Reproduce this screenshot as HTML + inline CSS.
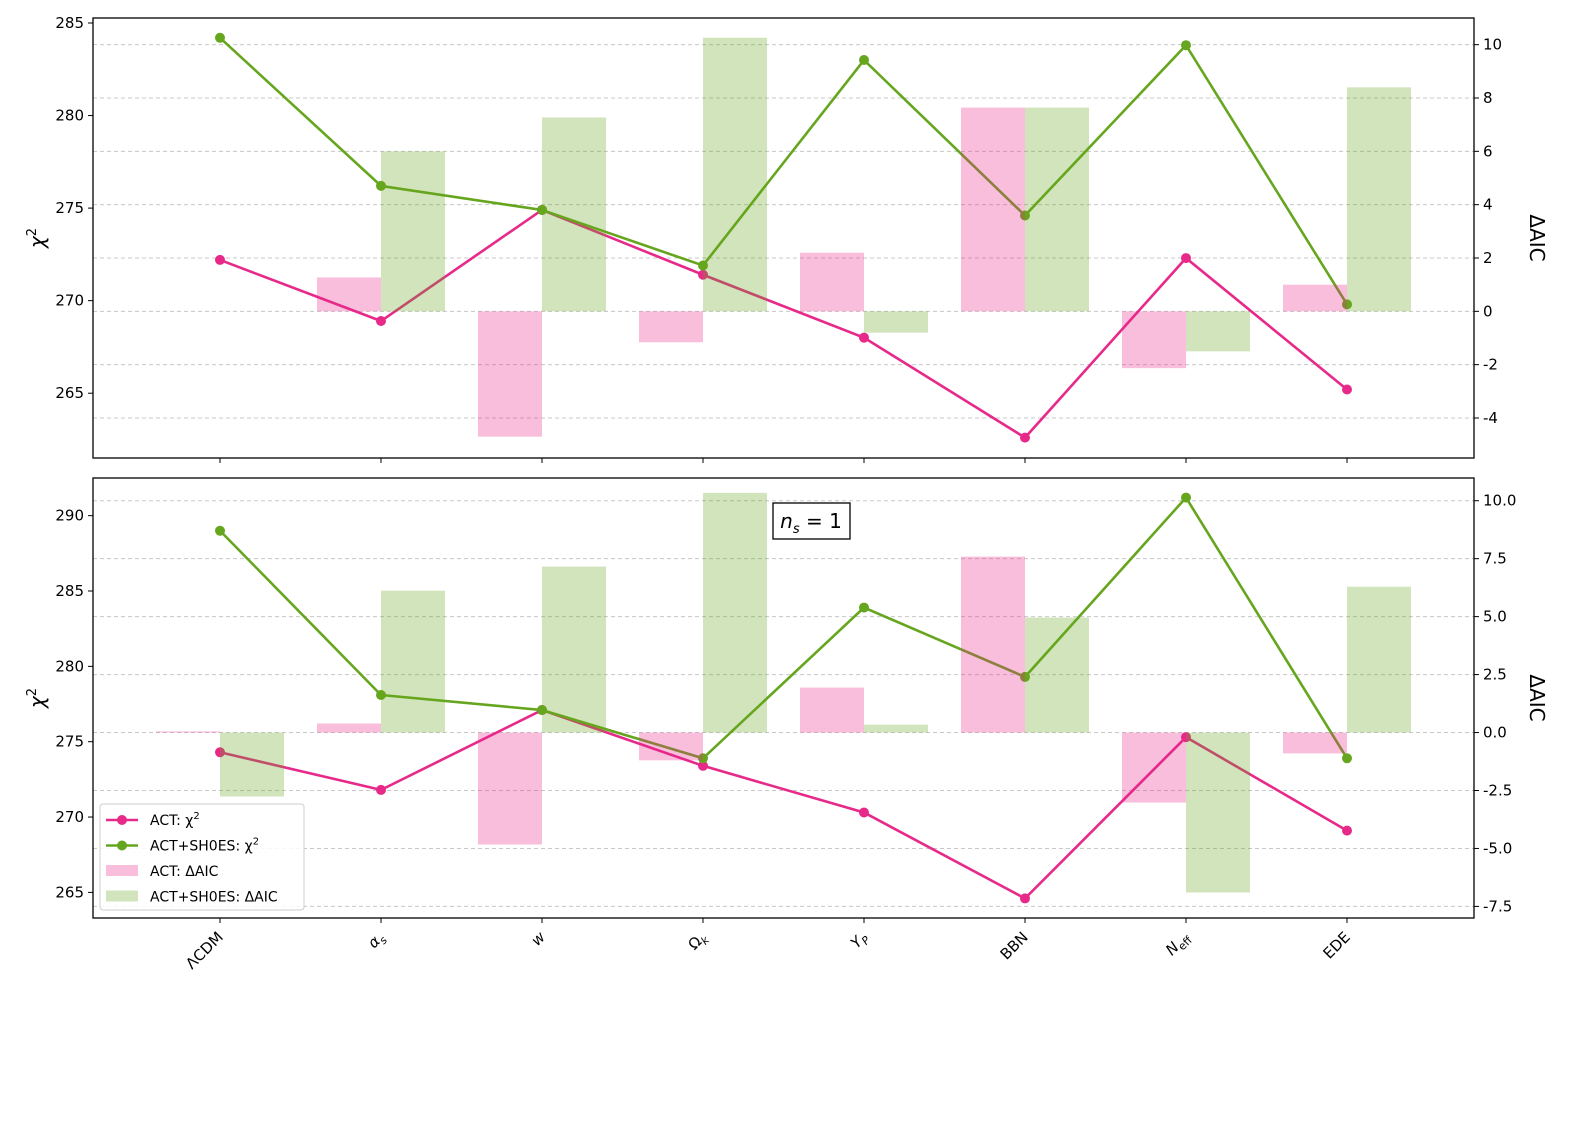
<!DOCTYPE html>
<html><head><meta charset="utf-8"><style>
html,body{margin:0;padding:0;background:#fff;}
svg{display:block;font-family:"DejaVu Sans","Liberation Sans",sans-serif;}
</style></head><body>
<svg id="chart" width="1578" height="1127" viewBox="0 0 1578 1127" xmlns="http://www.w3.org/2000/svg">
<rect width="1578" height="1127" fill="#fff"/>
<g id="root"></g>
</svg>
<script>
const categories = ["ΛCDM","αs","w","Ωk","YP","BBN","Neff","EDE"];
const topActChi2 = [272.2,268.9,274.9,271.4,268.0,262.6,272.3,265.2];
const topShoesChi2 = [284.2,276.2,274.9,271.9,283.0,274.6,283.8,269.8];
const topActAIC = [0,1.27,-4.7,-1.16,2.2,7.64,-2.13,1.0];
const topShoesAIC = [0,6.0,7.27,10.26,-0.8,7.64,-1.5,8.4];
const botActChi2 = [274.3,271.8,277.1,273.4,270.3,264.6,275.3,269.1];
const botShoesChi2 = [289.0,278.1,277.1,273.9,283.9,279.3,291.2,273.9];
const botActAIC = [0.05,0.39,-4.83,-1.2,1.94,7.59,-3.02,-0.9];
const botShoesAIC = [-2.76,6.12,7.16,10.34,0.34,4.96,-6.9,6.29];
const topLeftTicks = [265,270,275,280,285];
const topRightTicks = [-4,-2,0,2,4,6,8,10];
const botLeftTicks = [265,270,275,280,285,290];
const botRightTicks = [-7.5,-5.0,-2.5,0.0,2.5,5.0,7.5,10.0];

const NS="http://www.w3.org/2000/svg";
const root=document.getElementById('root');
function mk(tag,attrs,parent){const e=document.createElementNS(NS,tag);for(const k in attrs)e.setAttribute(k,attrs[k]);(parent||root).appendChild(e);return e;}
const PINK="#e7298a",GREEN="#66a61e";
const X0=93,X1=1474;
function xPos(i){return 220+i*161;}

function panel(name,y0,y1,lMin,lMax,rMin,rMax,lTicks,rTicks,rFmt,act,sh,actA,shA,showX){
  const g=mk('g',{});
  
  
  const yL=v=>y1-(v-lMin)/(lMax-lMin)*(y1-y0);
  const yR=v=>y1-(v-rMin)/(rMax-rMin)*(y1-y0);
  rTicks.forEach(t=>{const l=mk('line',{x1:X0,x2:X1,y1:yR(t),y2:yR(t),stroke:'#c8c8c8','stroke-dasharray':'4,3','stroke-width':1},g);
    });
  [[act,PINK,'act-chi2-line'],[sh,GREEN,'shoes-chi2-line']].forEach(([d,c,n])=>{
    const pl=mk('polyline',{points:d.map((v,i)=>xPos(i)+','+yL(v)).join(' '),fill:'none',stroke:c,'stroke-width':2.6},g);
    
    d.forEach((v,i)=>{const c1=mk('circle',{cx:xPos(i),cy:yL(v),r:5,fill:c},g);
      });
  });
  const z=yR(0);
  actA.forEach((v,i)=>{const y=yR(v);const r=mk('rect',{x:xPos(i)-64,y:Math.min(y,z),width:64,height:Math.abs(y-z),fill:PINK,'fill-opacity':0.3},g);
    });
  shA.forEach((v,i)=>{const y=yR(v);const r=mk('rect',{x:xPos(i),y:Math.min(y,z),width:64,height:Math.abs(y-z),fill:GREEN,'fill-opacity':0.3},g);
    });
  const fr=mk('rect',{x:X0,y:y0,width:X1-X0,height:y1-y0,fill:'none',stroke:'#000','stroke-width':1.3},g);
  
  lTicks.forEach(t=>{mk('line',{x1:X0-5,x2:X0,y1:yL(t),y2:yL(t),stroke:'#000'},g);
    const tx=mk('text',{x:X0-9,y:yL(t)+5,'text-anchor':'end','font-size':15},g);tx.textContent=t;
    });
  rTicks.forEach(t=>{mk('line',{x1:X1,x2:X1+5,y1:yR(t),y2:yR(t),stroke:'#000'},g);
    const tx=mk('text',{x:X1+9,y:yR(t)+5,'font-size':15},g);tx.textContent=rFmt(t);
    });
  categories.forEach((c,i)=>mk('line',{x1:xPos(i),x2:xPos(i),y1:y1,y2:y1+5,stroke:'#000'},g));
  const yl=mk('text',{x:0,y:0,transform:`translate(44,${(y0+y1)/2}) rotate(-90)`,'text-anchor':'middle','font-size':20,'font-style':'italic'},g);
  yl.innerHTML='χ<tspan dy="-8" font-size="13" font-style="normal">2</tspan>';
  
  const yr=mk('text',{x:0,y:0,transform:`translate(1530,${(y0+y1)/2}) rotate(90)`,'text-anchor':'middle','font-size':20},g);
  yr.textContent='ΔAIC';
  
  if(showX){
    const labels=['ΛCDM','<tspan font-style="italic">α</tspan><tspan font-size="11" font-style="italic" dy="4">s</tspan>','<tspan font-style="italic">w</tspan>','Ω<tspan font-size="11" font-style="italic" dy="4">k</tspan>','<tspan font-style="italic">Y</tspan><tspan font-size="11" font-style="italic" dy="4">P</tspan>','BBN','<tspan font-style="italic">N</tspan><tspan font-size="11" dy="4">eff</tspan>','EDE'];
    labels.forEach((l,i)=>{const t=mk('text',{x:0,y:0,transform:`translate(${xPos(i)+4},${y1+20}) rotate(-45)`,'text-anchor':'end','font-size':15},g);
      t.innerHTML=l;});
  }
}
panel('top-panel',18,458,261.5,285.27,-5.5,11.0,topLeftTicks,topRightTicks,t=>t,topActChi2,topShoesChi2,topActAIC,topShoesAIC,false);
panel('bottom-panel',478,918,263.3,292.5,-8.0,10.98,botLeftTicks,botRightTicks,t=>t.toFixed(1),botActChi2,botShoesChi2,botActAIC,botShoesAIC,true);

const nb=mk('g',{});
mk('rect',{x:773,y:503,width:77,height:36,fill:'#fff',stroke:'#000','stroke-width':1.3},nb);
const nt=mk('text',{x:811,y:528,'text-anchor':'middle','font-size':20},nb);
nt.innerHTML='<tspan font-style="italic">n</tspan><tspan font-size="13" font-style="italic" dy="5">s</tspan><tspan dy="-5"> = 1</tspan>';

const lg=mk('g',{});
mk('rect',{x:100,y:804,width:204,height:106,rx:3,fill:'#fff','fill-opacity':0.85,stroke:'#ccc'},lg);
const ents=[['line',PINK,'ACT: χ<tspan dy="-6" font-size="10">2</tspan>'],['line',GREEN,'ACT+SH0ES: χ<tspan dy="-6" font-size="10">2</tspan>'],['bar',PINK,'ACT: ΔAIC'],['bar',GREEN,'ACT+SH0ES: ΔAIC']];
ents.forEach((e,i)=>{const y=820+i*25.5;const eg=mk('g',{},lg);
  
  if(e[0]=='line'){mk('line',{x1:106,x2:138,y1:y,y2:y,stroke:e[1],'stroke-width':2.6},eg);mk('circle',{cx:122,cy:y,r:5,fill:e[1]},eg);}
  else mk('rect',{x:106,y:y-6,width:32,height:11,fill:e[1],'fill-opacity':0.3},eg);
  const t=mk('text',{x:150,y:y+5,'font-size':14},eg);t.innerHTML=e[2];});
</script>
</body></html>
